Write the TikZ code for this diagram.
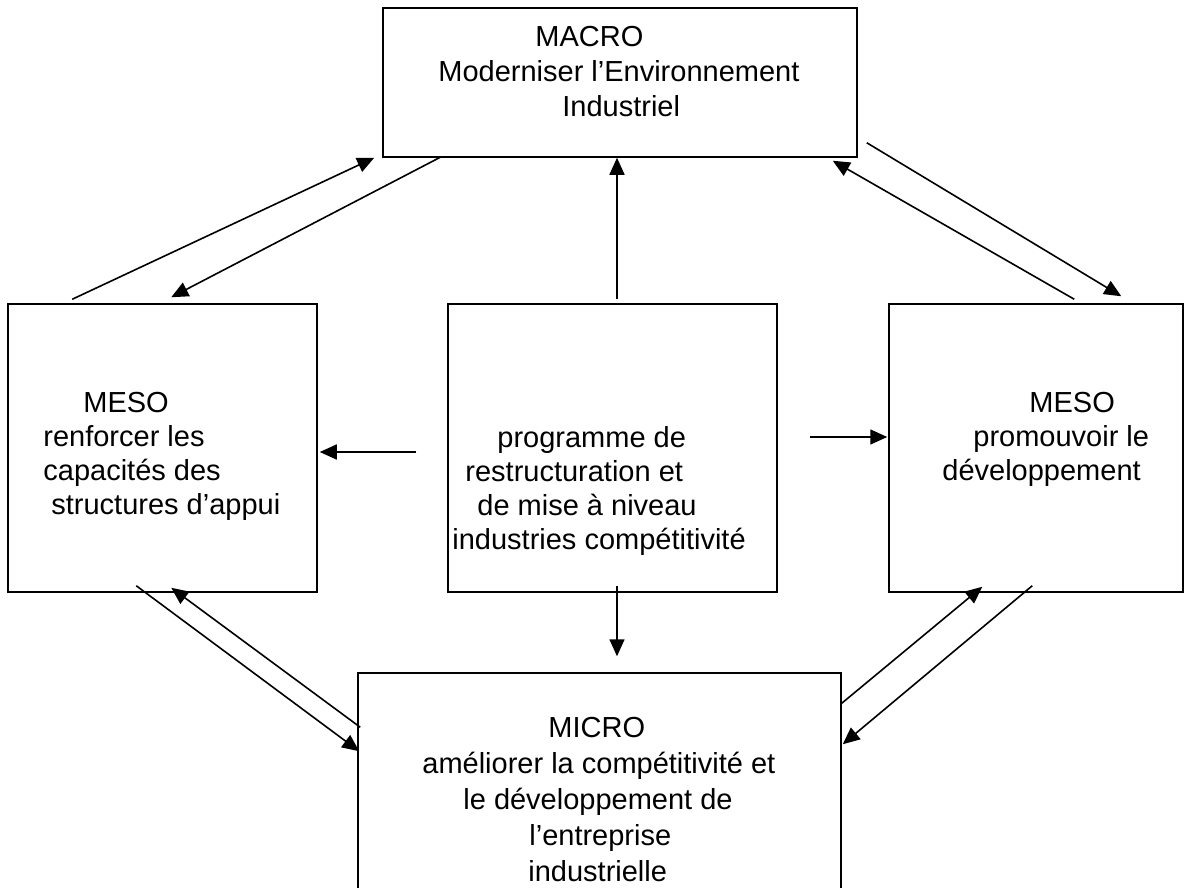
\documentclass[tikz,border=0pt]{standalone}
\usepackage{fontspec}
\setmainfont{Liberation Sans}
\usetikzlibrary{arrows.meta,calc}
\tikzset{
  box/.style={draw, line width=0.75pt, inner sep=0pt},
  txt/.style={anchor=base west, align=left, inner sep=0pt, font=\fontsize{14.5}{17}\selectfont},
  arr/.style={line width=0.8pt, -{Triangle[length=8.5pt,width=7.5pt]}}
}
\begin{document}
\begin{tikzpicture}[x=0.5pt, y=-0.5pt]
    \useasboundingbox (0,0) rectangle (1188,888);
    \clip (0,0) rectangle (1188,888);
    % boxes
    \node[box, minimum width=237pt, minimum height=74.5pt] (macro) at (620,82.5) {};
    \node[box, minimum width=154.5pt, minimum height=144pt] (mesoL) at (162.5,448) {};
    \node[box, minimum width=164.5pt, minimum height=144pt] (prog) at (612.5,448) {};
    \node[box, minimum width=147pt, minimum height=144pt] (mesoR) at (1036,448) {};
    \node[box, minimum width=241.5pt, minimum height=116pt] (micro) at (599.5,789) {};
    % texts (base = last line)
    \node[txt, font=\fontsize{14.5}{17.5}\selectfont] (macroTxt) at (438,117) {\hspace*{48.5pt}MACRO\\ Moderniser l’Environnement\\ \hspace*{62pt}Industriel};
    \node[txt] (mesoLTxt) at (43,514) {\hspace*{20pt}MESO\\ renforcer les\\ capacités des\\ \hspace*{4pt}structures d’appui};
    \node[txt] (progTxt) at (452,549) {\hspace*{22.5pt}programme de\\ \hspace*{6.5pt}restructuration et\\ \hspace*{12.5pt}de mise à niveau\\ industries compétitivité};
    \node[txt] (mesoRTxt) at (942,480) {\hspace*{43.5pt}MESO\\ \hspace*{15.5pt}promouvoir le\\ développement};
    \node[txt, font=\fontsize{14.5}{18}\selectfont] (microTxt) at (422,881) {\hspace*{63pt}MICRO\\ améliorer la compétitivité et\\ \hspace*{20.5pt}le développement de\\ \hspace*{53.5pt}l’entreprise\\ \hspace*{53pt}industrielle};
    % arrows from the programme
    \draw[arr] ($(prog.north)+(4.5,-4)$) -- ($(macro.south)+(-3,0)$);
    \draw[arr] ($(prog.south)+(4.5,-7)$) -- ($(micro.north)+(17.5,-16)$);
    \draw[arr] ($(prog.west)+(-31,4)$) -- ($(mesoL.east)+(2,4)$);
    \draw[arr] ($(prog.east)+(32,-11)$) -- ($(mesoR.west)+(-1,-11)$);
    % macro <-> meso
    \draw[arr] ($(mesoL.north west)+(65,-4)$) -- ($(macro.south west)+(-8,0)$);
    \draw[arr] ($(macro.south west)+(59,-1)$) -- ($(mesoL.north west)+(164,-6)$);
    \draw[arr] ($(mesoR.north west)+(186,-4)$) -- ($(macro.south east)+(-25,3)$);
    \draw[arr] ($(macro.south east)+(9,-15)$) -- ($(mesoR.north west)+(233,-7)$);
    % meso <-> micro
    \draw[arr] ($(mesoL.south west)+(129,-7)$) -- ($(micro.north west)+(2,79)$);
    \draw[arr] ($(micro.north west)+(3,55)$) -- ($(mesoL.south west)+(164,-5)$);
    \draw[arr] ($(micro.north east)+(0,31)$) -- ($(mesoR.south west)+(94,-6)$);
    \draw[arr] ($(mesoR.south west)+(144,-7)$) -- ($(micro.north east)+(1,72)$);
\end{tikzpicture}
\end{document}
